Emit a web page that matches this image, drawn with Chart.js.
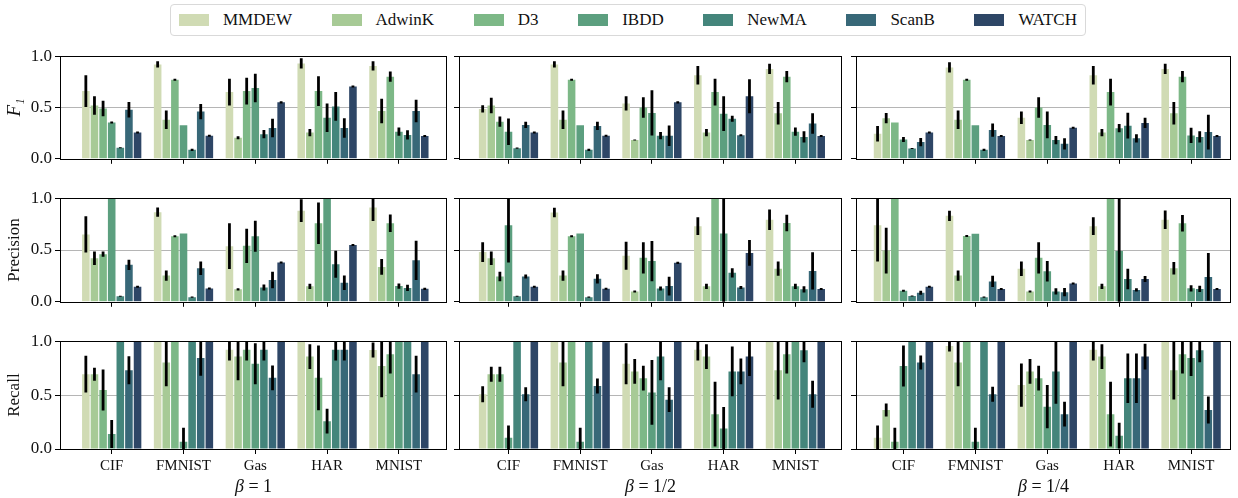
<!DOCTYPE html>
<html>
<head>
<meta charset="utf-8">
<script src="https://cdn.jsdelivr.net/npm/chart.js@4.4.1/dist/chart.umd.min.js"></script>
<style>
  body { margin: 0; background: #fff; width: 1238px; height: 498px; overflow: hidden; position: relative; font-family: "Liberation Serif", "DejaVu Serif", serif; }
  .panel { position: absolute; }
  #legend { position: absolute; left: 170px; top: 4px; width: 898px; height: 30px; border: 1px solid #d9d9d9; border-radius: 4px;
            display: flex; align-items: center; justify-content: space-between; padding: 0 8px; font-size: 17px; color: #111; }
  .item { display: flex; align-items: center; }
  .sw { width: 30px; height: 12px; margin-right: 14px; }
  .beta { position: absolute; top: 476px; font-size: 18px; color: #111; transform: translateX(-50%); white-space: nowrap; }
</style>
</head>
<body>
<div id="legend"></div>
<script>
// methods, datasets and colours
const methods = ['MMDEW', 'AdwinK', 'D3', 'IBDD', 'NewMA', 'ScanB', 'WATCH'];
const colors = ['#d0dbb4', '#a7ca96', '#7db887', '#5c9f7f', '#44857b', '#386878', '#2e4666'];
const categories = ['CIF', 'FMNIST', 'Gas', 'HAR', 'MNIST'];
const betas = ['1', '1/2', '1/4'];
const metrics = ['F₁', 'Precision', 'Recall'];
const yTicks = [0, 0.5, 1];

// values [method][category], errors = half length of the black bar
const f1Beta1 = [
  [0.66, 0.92, 0.65, 0.93, 0.905],
  [0.52, 0.38, 0.205, 0.256, 0.466],
  [0.49, 0.77, 0.66, 0.66, 0.80],
  [0.354, 0.326, 0.69, 0.40, 0.264],
  [0.107, 0.087, 0.24, 0.51, 0.233],
  [0.478, 0.46, 0.30, 0.30, 0.466],
  [0.256, 0.225, 0.55, 0.705, 0.222]
];
const f1Beta1Err = [
  [0.155, 0.03, 0.13, 0.05, 0.045],
  [0.09, 0.09, 0.015, 0.035, 0.12],
  [0.075, 0.01, 0.13, 0.145, 0.05],
  [0.01, 0, 0.14, 0.14, 0.04],
  [0.005, 0.01, 0.04, 0.14, 0.045],
  [0.075, 0.075, 0.09, 0.095, 0.11],
  [0.01, 0.01, 0.01, 0.01, 0.01]
];
const f1Beta2 = [
  [0.486, 0.92, 0.54, 0.815, 0.876],
  [0.52, 0.38, 0.183, 0.256, 0.444],
  [0.362, 0.77, 0.50, 0.65, 0.80],
  [0.264, 0.326, 0.447, 0.44, 0.264],
  [0.104, 0.087, 0.225, 0.39, 0.213],
  [0.33, 0.32, 0.225, 0.23, 0.345],
  [0.256, 0.225, 0.55, 0.61, 0.222]
];
const f1Beta2Err = [
  [0.035, 0.03, 0.07, 0.09, 0.05],
  [0.075, 0.09, 0.005, 0.035, 0.11],
  [0.05, 0.01, 0.1, 0.13, 0.055],
  [0.13, 0, 0.22, 0.17, 0.04],
  [0.005, 0.01, 0.035, 0.03, 0.055],
  [0.03, 0.04, 0.1, 0.01, 0.1],
  [0.01, 0.01, 0.01, 0.165, 0.01]
];
const f1Beta4 = [
  [0.244, 0.89, 0.40, 0.815, 0.876],
  [0.396, 0.38, 0.183, 0.256, 0.444],
  [0.354, 0.77, 0.50, 0.65, 0.80],
  [0.188, 0.326, 0.33, 0.298, 0.228],
  [0.10, 0.087, 0.183, 0.323, 0.213],
  [0.163, 0.28, 0.146, 0.2, 0.26],
  [0.256, 0.222, 0.303, 0.35, 0.222]
];
const f1Beta4Err = [
  [0.075, 0.05, 0.06, 0.09, 0.05],
  [0.05, 0.09, 0.005, 0.035, 0.11],
  [0, 0.01, 0.1, 0.13, 0.055],
  [0.025, 0, 0.13, 0.04, 0.075],
  [0.005, 0.01, 0.04, 0.125, 0.055],
  [0.04, 0.065, 0.055, 0.04, 0.17],
  [0.01, 0.01, 0.01, 0.05, 0.01]
];
const precBeta1 = [
  [0.65, 0.865, 0.537, 0.88, 0.91],
  [0.42, 0.253, 0.12, 0.149, 0.337],
  [0.46, 0.632, 0.54, 0.758, 0.758],
  [1.0, 0.66, 0.632, 1.0, 0.152],
  [0.054, 0.045, 0.138, 0.362, 0.134],
  [0.357, 0.323, 0.21, 0.185, 0.40],
  [0.146, 0.128, 0.38, 0.548, 0.125]
];
const precBeta1Err = [
  [0.175, 0.045, 0.22, 0.11, 0.13],
  [0.065, 0.05, 0.01, 0.025, 0.075],
  [0.025, 0.01, 0.165, 0.2, 0.085],
  [0, 0, 0.15, 0, 0.025],
  [0.005, 0.005, 0.03, 0.13, 0.03],
  [0.05, 0.065, 0.08, 0.07, 0.19],
  [0.01, 0.01, 0.01, 0.01, 0.01]
];
const precBeta2 = [
  [0.48, 0.862, 0.444, 0.73, 0.792],
  [0.42, 0.253, 0.10, 0.149, 0.32],
  [0.244, 0.632, 0.424, 1.0, 0.76],
  [0.74, 0.66, 0.393, 0.66, 0.149],
  [0.053, 0.045, 0.128, 0.28, 0.12],
  [0.244, 0.222, 0.152, 0.138, 0.298],
  [0.146, 0.126, 0.376, 0.472, 0.124]
];
const precBeta2Err = [
  [0.095, 0.045, 0.135, 0.085, 0.1],
  [0.065, 0.05, 0.01, 0.025, 0.068],
  [0.045, 0.01, 0.15, 0, 0.08],
  [0.36, 0, 0.195, 0.7, 0.025],
  [0.005, 0.005, 0.02, 0.045, 0.03],
  [0.02, 0.045, 0.09, 0.015, 0.18],
  [0.01, 0.01, 0.01, 0.125, 0.01]
];
const precBeta4 = [
  [0.74, 0.83, 0.32, 0.73, 0.792],
  [0.494, 0.253, 0.10, 0.149, 0.323],
  [1.0, 0.635, 0.424, 1.0, 0.758],
  [0.107, 0.657, 0.295, 0.49, 0.13],
  [0.056, 0.045, 0.10, 0.22, 0.124],
  [0.087, 0.197, 0.093, 0.115, 0.24],
  [0.146, 0.124, 0.176, 0.22, 0.124]
];
const precBeta4Err = [
  [0.35, 0.05, 0.07, 0.085, 0.09],
  [0.22, 0.05, 0.01, 0.025, 0.06],
  [0, 0.01, 0.15, 0, 0.08],
  [0.01, 0, 0.1, 0.6, 0.03],
  [0.005, 0.005, 0.03, 0.1, 0.03],
  [0.02, 0.055, 0.04, 0.015, 0.23],
  [0.01, 0.01, 0.01, 0.03, 0.01]
];
const recBeta1 = [
  [0.694, 1.0, 0.92, 1.0, 0.918],
  [0.694, 0.803, 0.857, 0.857, 0.77],
  [0.548, 1.0, 0.92, 0.66, 0.88],
  [0.14, 0.067, 0.79, 0.258, 1.0],
  [1.0, 1.0, 0.92, 0.92, 1.0],
  [0.73, 0.845, 0.66, 0.92, 0.694],
  [1.0, 1.0, 1.0, 1.0, 1.0]
];
const recBeta1Err = [
  [0.17, 0, 0.1, 0, 0.07],
  [0.06, 0.22, 0.22, 0.115, 0.29],
  [0.19, 0, 0.1, 0.3, 0.18],
  [0.13, 0.13, 0.19, 0.115, 0],
  [0, 0, 0.1, 0.1, 0],
  [0.13, 0.165, 0.115, 0.1, 0.17],
  [0, 0, 0, 0, 0]
];
const recBeta2 = [
  [0.508, 1.0, 0.79, 0.92, 1.0],
  [0.694, 0.803, 0.72, 0.857, 0.73],
  [0.694, 1.0, 0.657, 0.323, 0.88],
  [0.104, 0.067, 0.525, 0.19, 1.0],
  [1.0, 1.0, 0.857, 0.72, 0.915],
  [0.508, 0.584, 0.458, 0.72, 0.508],
  [1.0, 1.0, 1.0, 0.857, 1.0]
];
const recBeta2Err = [
  [0.075, 0, 0.19, 0.1, 0],
  [0.07, 0.22, 0.115, 0.115, 0.27],
  [0.07, 0, 0.115, 0.3, 0.18],
  [0.115, 0.13, 0.3, 0.2, 0],
  [0, 0, 0.22, 0.23, 0.11],
  [0.065, 0.07, 0.115, 0.12, 0.125],
  [0, 0, 0, 0.18, 0]
];
const recBeta4 = [
  [0.104, 0.955, 0.593, 0.92, 1.0],
  [0.362, 0.803, 0.72, 0.857, 0.73],
  [0.067, 1.0, 0.657, 0.323, 0.88],
  [0.77, 0.067, 0.393, 0.124, 0.843],
  [1.0, 1.0, 0.72, 0.657, 0.915],
  [0.803, 0.508, 0.323, 0.657, 0.362],
  [1.0, 1.0, 1.0, 0.857, 1.0]
];
const recBeta4Err = [
  [0.115, 0.05, 0.2, 0.1, 0],
  [0.06, 0.22, 0.115, 0.115, 0.27],
  [0.13, 0, 0.115, 0.3, 0.18],
  [0.19, 0.13, 0.2, 0.12, 0.165],
  [0, 0, 0.3, 0.23, 0.11],
  [0.065, 0.07, 0.115, 0.23, 0.125],
  [0, 0, 0, 0.12, 0]
];

const grid = [
  [[f1Beta1, f1Beta1Err], [f1Beta2, f1Beta2Err], [f1Beta4, f1Beta4Err]],
  [[precBeta1, precBeta1Err], [precBeta2, precBeta2Err], [precBeta4, precBeta4Err]],
  [[recBeta1, recBeta1Err], [recBeta2, recBeta2Err], [recBeta4, recBeta4Err]]
];

// panel geometry (plot areas in page pixels)
const cols = [
  { left: 60, right: 447, min: -0.72, max: 4.67 },
  { left: 459, right: 842, min: -0.69, max: 4.65 },
  { left: 856, right: 1231, min: -0.66, max: 4.555 }
];
const rows = [{ top: 46, bottom: 164 }, { top: 188, bottom: 307 }, { top: 331, bottom: 449 }];
const serif = '"Liberation Serif", "DejaVu Serif", serif';

// legend
const legend = document.getElementById('legend');
methods.forEach((m, i) => {
  const it = document.createElement('div');
  it.className = 'item';
  it.innerHTML = '<span class="sw" style="background:' + colors[i] + '"></span><span>' + m + '</span>';
  legend.appendChild(it);
});

// black error bars, clipped to the plot area, then the frame
function errorPlugin(errs) {
  return {
    id: 'errorBars',
    afterDatasetsDraw(chart) {
      const { ctx, chartArea, scales } = chart;
      ctx.save();
      ctx.beginPath();
      ctx.rect(chartArea.left, chartArea.top, chartArea.right - chartArea.left, chartArea.bottom - chartArea.top);
      ctx.clip();
      ctx.strokeStyle = '#000';
      ctx.lineWidth = 2.8;
      chart.data.datasets.forEach((ds, i) => {
        chart.getDatasetMeta(i).data.forEach((bar, j) => {
          const e = errs[i][j];
          if (!e) return;
          const v = ds.data[j].y;
          ctx.beginPath();
          ctx.moveTo(bar.x, scales.y.getPixelForValue(v - e));
          ctx.lineTo(bar.x, scales.y.getPixelForValue(v + e));
          ctx.stroke();
        });
      });
      ctx.restore();
      ctx.save();
      ctx.strokeStyle = '#000';
      ctx.lineWidth = 1;
      ctx.strokeRect(Math.round(chartArea.left) + 0.5, Math.round(chartArea.top) + 0.5,
        Math.round(chartArea.right - chartArea.left) - 1, Math.round(chartArea.bottom - chartArea.top));
      ctx.restore();
    }
  };
}

function makePanel(r, c) {
  const [vals, errs] = grid[r][c];
  const col = cols[c], row = rows[r];
  const yW = c === 0 ? 60 : 8;
  const xH = r === 2 ? 30 : 8;
  const padT = 3, padR = 3;
  const div = document.createElement('div');
  div.className = 'panel';
  div.style.left = (col.left - yW) + 'px';
  div.style.top = (row.top - padT) + 'px';
  div.style.width = (yW + col.right - col.left + padR) + 'px';
  div.style.height = (padT + row.bottom - row.top + xH) + 'px';
  const cv = document.createElement('canvas');
  div.appendChild(cv);
  document.body.appendChild(div);

  new Chart(cv, {
    type: 'bar',
    data: {
      datasets: methods.map((m, i) => ({
        label: m,
        data: categories.map((cat, j) => ({ x: j, y: vals[i][j] })),
        backgroundColor: colors[i],
        borderWidth: 0,
        categoryPercentage: 0.84,
        barPercentage: 0.88
      }))
    },
    options: {
      responsive: true,
      maintainAspectRatio: false,
      animation: false,
      layout: { padding: { top: padT, right: padR, left: 0, bottom: 0 } },
      plugins: { legend: { display: false }, tooltip: { enabled: false } },
      scales: {
        x: {
          type: 'linear',
          min: col.min,
          max: col.max,
          offset: false,
          border: { display: false },
          grid: { offset: false, drawOnChartArea: false, drawTicks: true, tickLength: 5, tickColor: '#000' },
          afterBuildTicks: (s) => { s.ticks = categories.map((cat, j) => ({ value: j })); },
          afterFit: (s) => { s.height = xH; },
          ticks: {
            padding: 3,
            color: '#111',
            font: { family: serif, size: 15 },
            maxRotation: 0,
            autoSkip: false,
            callback: (v) => (r === 2 ? categories[v] : '')
          }
        },
        y: {
          min: 0,
          max: 1,
          border: { display: false },
          grid: {
            color: (ctx) => (ctx.tick && ctx.tick.value === 0.5 ? '#b5b5b5' : 'rgba(0,0,0,0)'),
            tickColor: '#000',
            tickLength: 5,
            lineWidth: 1
          },
          afterBuildTicks: (s) => { s.ticks = yTicks.map(v => ({ value: v })); },
          afterFit: (s) => { s.width = yW; },
          ticks: {
            padding: 3,
            color: '#111',
            font: { family: serif, size: 17 },
            callback: (v) => (c === 0 ? v.toFixed(1) : '')
          },
          title: {
            display: c === 0,
            text: metrics[r],
            color: '#111',
            padding: { top: 4, bottom: 0 },
            font: { family: serif, size: r === 0 ? 19 : 17, style: r === 0 ? 'italic' : 'normal' }
          }
        }
      }
    },
    plugins: [errorPlugin(errs)]
  });
}

for (let r = 0; r < 3; r++) {
  for (let c = 0; c < 3; c++) makePanel(r, c);
}

// beta labels under each column
betas.forEach((b, c) => {
  const d = document.createElement('div');
  d.className = 'beta';
  d.style.left = ((cols[c].left + cols[c].right) / 2) + 'px';
  d.innerHTML = '<i>β</i> = ' + b;
  document.body.appendChild(d);
});
</script>
</body>
</html>
